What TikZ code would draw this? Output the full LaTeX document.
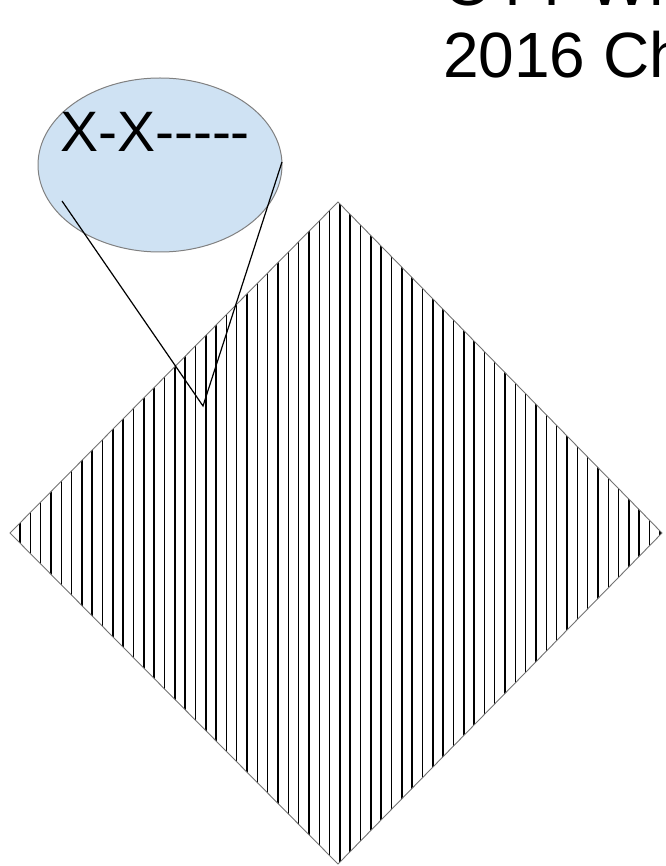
\documentclass[tikz,border=0pt]{standalone}
\usepackage{fontspec}
\setmainfont{Liberation Sans}[Ligatures=NoCommon]
\begin{document}
\begin{tikzpicture}[x=1pt,y=-1pt,
  hatchline/.style={black,line width=1.5pt},
  outline/.style={draw=black!55,line width=0.9pt},
  pointer/.style={black,line width=1.2pt},
  bigtext/.style={font=\fontsize{64}{72}\selectfont,anchor=base west,inner sep=0pt}]
\definecolor{bubble}{RGB}{207,226,243}
\useasboundingbox (0,0) rectangle (665,866);
% diamond
\coordinate (T) at (338,202);
\coordinate (B) at (338,864);
\coordinate (L) at (10,533);
\coordinate (R) at (662,533);
\begin{scope}
\clip (T) -- (R) -- (B) -- (L) -- cycle;
\foreach \k in {0,...,62} {
  \draw[hatchline] ({20+10.32*\k},190) -- ({20+10.32*\k},870);
}
\end{scope}
\draw[outline] (T) -- (R) -- (B) -- (L) -- cycle;
% callout ellipse
\draw[fill=bubble,draw=black!50,line width=1pt] (160,165) ellipse [x radius=122, y radius=87];
\node[inner sep=0pt,font=\fontsize{57}{62}\selectfont] (lbl) at (155,132) {X-X{-}{-}{-}{-}{-}};
\coordinate (c1) at (62,201);
\coordinate (c2) at (282,162);
\coordinate (tip) at (203,406);
\draw[pointer] (c1) -- (tip) -- (c2);
% title text (clipped by page, as in the reference)
\node[bigtext] (t1) at (443,6) {OTT Wh};
\node[bigtext] (t2) at (443,78) {2016 Ch};
\end{tikzpicture}
\end{document}
